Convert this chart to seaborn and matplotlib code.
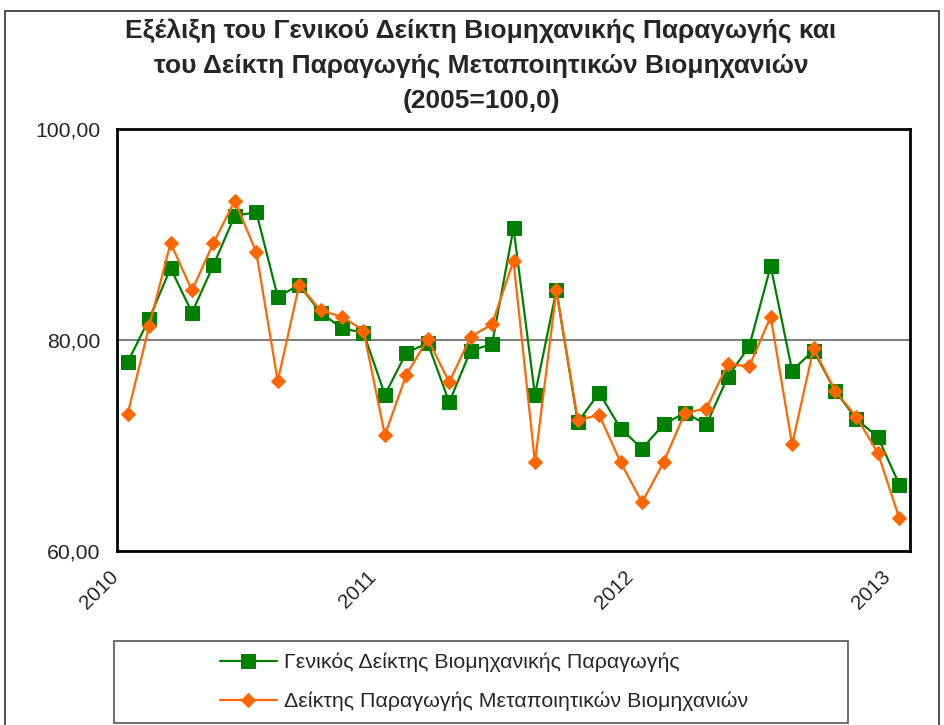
import numpy as np
import pandas as pd
import matplotlib
matplotlib.use("Agg")
import matplotlib.pyplot as plt
import matplotlib.transforms as mtransforms
import seaborn as sns
from matplotlib.patches import Rectangle

# Monthly index values, Jan 2010 - Jan 2013 (2005=100,0)
months = pd.date_range("2010-01-01", "2013-01-01", freq="MS").strftime("%Y-%m").tolist()

general_index = [77.9, 82.0, 86.8, 82.6, 87.1, 91.8, 92.1, 84.1, 85.2, 82.6, 81.1, 80.7,
                 74.8, 78.8, 79.7, 74.1, 79.0, 79.6, 90.6, 74.8, 84.7, 72.2, 75.0, 71.6,
                 69.7, 72.0, 73.1, 72.0, 76.5, 79.4, 87.0, 77.1, 79.0, 75.2, 72.5, 70.8,
                 66.3]

manufacturing_index = [73.0, 81.3, 89.2, 84.7, 89.2, 93.2, 88.3, 76.1, 85.2, 82.8, 82.2, 80.9,
                       71.0, 76.7, 80.1, 76.0, 80.3, 81.5, 87.5, 68.4, 84.7, 72.4, 72.9, 68.4,
                       64.6, 68.4, 73.1, 73.5, 77.7, 77.5, 82.2, 70.1, 79.2, 75.2, 72.7, 69.3,
                       63.1]

year_labels = ["2010", "2011", "2012", "2013"]
y_ticks = [60, 80, 100]
y_tick_labels = ["60,00", "80,00", "100,00"]

label_general = "Γενικός Δείκτης Βιομηχανικής Παραγωγής"
label_manuf = "Δείκτης Παραγωγής Μεταποιητικών Βιομηχανιών"
title_lines = ["Εξέλιξη του Γενικού Δείκτη Βιομηχανικής Παραγωγής και",
               "του Δείκτη Παραγωγής Μεταποιητικών Βιομηχανιών",
               "(2005=100,0)"]

df = pd.DataFrame({"month": months, "pos": np.arange(len(months)),
                   "general": general_index, "manuf": manufacturing_index})

sns.set_style("white")
plt.rcParams["font.family"] = ["Liberation Sans", "DejaVu Sans"]

W, H = 944, 725
fig = plt.figure(figsize=(W / 100, H / 100), dpi=100)
ax = fig.add_axes([117 / W, 1 - 551 / H, (910 - 117) / W, (551 - 129) / H])

green = "#008000"
orange = "#FF6600"

sns.lineplot(data=df, x="pos", y="general", ax=ax, color=green, lw=1.6,
             marker="s", markersize=9.5, markeredgecolor=green, label=label_general, zorder=3)
sns.lineplot(data=df, x="pos", y="manuf", ax=ax, color=orange, lw=1.6,
             marker="D", markersize=7.3, markeredgecolor=orange, label=label_manuf, zorder=4)

# axes
ax.set_xlim(-0.5, len(months) - 0.5)
ax.set_ylim(60, 100)
ax.axhline(80, color="#808080", lw=1.5, zorder=1)
ax.set_yticks(y_ticks)
ax.set_yticklabels(y_tick_labels, fontsize=15.3)
year_pos = [months.index(f"{y}-01") for y in year_labels]
ax.set_xticks(year_pos)
ax.set_xticklabels(year_labels, fontsize=14.8, rotation=45, ha="right",
                   rotation_mode="anchor", va="center")
ax.set_xticks(np.arange(-0.5, len(months), 1), minor=True)
ax.tick_params(axis="x", which="major", length=0, pad=15)
ax.tick_params(axis="x", which="minor", length=5, width=1, color="black", direction="out")
ax.tick_params(axis="y", length=6, width=1.2, color="black", direction="out", pad=6)
# nudge the year labels to the left, as in the original
shift = mtransforms.ScaledTranslation(-12 / 100, -2 / 100, fig.dpi_scale_trans)
for lbl in ax.get_xticklabels():
    lbl.set_transform(lbl.get_transform() + shift)
ax.set_xlabel("")
ax.set_ylabel("")
for s in ax.spines.values():
    s.set_visible(True)
    s.set_color("black")
    s.set_linewidth(2)

# title
for i, line in enumerate(title_lines):
    fig.text(481 / W, 1 - (31 + 35 * i) / H, line, ha="center", va="center",
             fontsize=19, fontweight="bold")

# legend with separate frame
handles, labels = ax.get_legend_handles_labels()
ax.legend_.remove()
fig.legend(handles, labels, loc="center", bbox_to_anchor=(484 / W, 1 - 682 / H),
           frameon=False, fontsize=15.4, handlelength=2.66, handletextpad=0.33,
           labelspacing=0.9, alignment="left")
fig.patches.append(Rectangle((114 / W, 1 - 723 / H), (848 - 114) / W, (723 - 641) / H,
                             transform=fig.transFigure, fill=False,
                             edgecolor="#555555", lw=1.2))
# outer chart border
fig.patches.append(Rectangle((5 / W, -0.01), (939 - 5) / W, 1 - 11 / H + 0.01,
                             transform=fig.transFigure, fill=False,
                             edgecolor="#333333", lw=1.2))

fig.savefig("out.png", dpi=100)
